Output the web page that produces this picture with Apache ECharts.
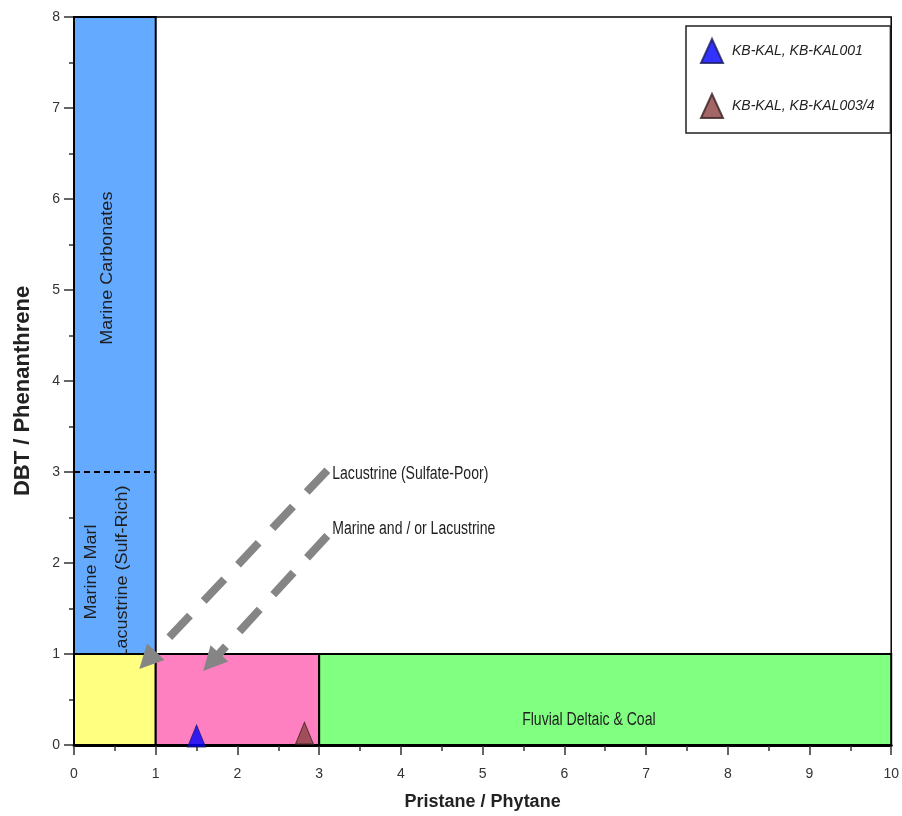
<!DOCTYPE html>
<html><head><meta charset="utf-8">
<script src="https://cdn.jsdelivr.net/npm/echarts@6/dist/echarts.min.js"></script>
<style>html,body{margin:0;padding:0;background:#fff}#c{width:902px;height:816px}</style>
</head><body><div id="c"></div>
<script>
// ---- data ----
const seriesNames = ['KB-KAL, KB-KAL001', 'KB-KAL, KB-KAL003/4'];
const pristanePhytane = [1.5, 2.82];
const dbtPhenanthrene = [0.1, 0.13];

// environment fields (x0, x1, y0, y1)
const regionNames = ['Marine Carbonates', 'Lacustrine (Sulf-Rich) low', 'Marine and / or Lacustrine', 'Fluvial Deltaic & Coal'];
const regionX0 = [0, 0, 1, 3];
const regionX1 = [1, 1, 3, 10];
const regionY0 = [1, 0, 0, 0];
const regionY1 = [8, 1, 1, 1];
const boundaryY = 3;           // dashed divide in the carbonate column
const boundaryX = [0, 1];

// annotation labels (data coordinates)
const labelTexts = ['Marine Carbonates', 'Marine Marl', 'Lacustrine (Sulf-Rich)', 'Lacustrine (Sulfate-Poor)', 'Marine and / or Lacustrine', 'Fluvial Deltaic & Coal'];
const labelX = [0.41, 0.22, 0.6, 3.16, 3.16, 6.3];
const labelY = [5.24, 1.9, 1.9, 2.98, 2.37, 0.27];

// trend arrows
const arrowFrom = [[3.1, 3.02], [3.1, 2.3]];
const arrowTo = [[0.9, 0.93], [1.68, 0.91]];

const xTickValues = [0, 1, 2, 3, 4, 5, 6, 7, 8, 9, 10];
const yTickValues = [0, 1, 2, 3, 4, 5, 6, 7, 8];

// ---- styles ----
const FONT = 'Arial, "Liberation Sans", sans-serif';
const regionFill = ['#64aaff', '#ffff80', '#ff80c0', '#80ff80'];
const labelRotate = [Math.PI / 2, Math.PI / 2, Math.PI / 2, 0, 0, 0];
const labelAlign = ['center', 'center', 'center', 'left', 'left', 'center'];
const labelScaleX = [1, 1, 1, 0.78, 0.78, 0.78];
const labelScaleY = [0.88, 0.88, 0.88, 1, 1, 1];
const pointFill = ['#0000ff', '#8b4040'];
const pointStroke = ['#1a1a60', '#3a2020'];

function rectRender(params, api) {
  const i = api.value(4);
  const p0 = api.coord([api.value(0), api.value(3)]);
  const p1 = api.coord([api.value(1), api.value(2)]);
  return {
    type: 'rect',
    shape: { x: p0[0], y: p0[1], width: p1[0] - p0[0], height: p1[1] - p0[1] },
    style: { fill: regionFill[i], stroke: '#000', lineWidth: 2 }
  };
}
function labelRender(params, api) {
  const i = api.value(2);
  const p = api.coord([api.value(0), api.value(1)]);
  return {
    type: 'text', x: p[0], y: p[1], rotation: labelRotate[i],
    scaleX: labelScaleX[i], scaleY: labelScaleY[i],
    style: { text: labelTexts[i], align: labelAlign[i], verticalAlign: 'middle', font: '18px ' + FONT, fill: '#1e1e1e' }
  };
}
const regionData = regionNames.map((n, i) => [regionX0[i], regionX1[i], regionY0[i], regionY1[i], i]);
const labelData = labelTexts.map((t, i) => [labelX[i], labelY[i], i]);

const chart = echarts.init(document.getElementById('c'));
chart.setOption({
  backgroundColor: '#fff',
  animation: false,
  grid: { left: 74, right: 7, top: 17, bottom: 71, show: true, borderColor: '#000', borderWidth: 1.5 },
  legend: {
    left: 686, top: 26, orient: 'vertical',
    itemWidth: 22, itemHeight: 24, itemGap: 29,
    padding: [12, 16, 14, 14],
    borderColor: '#222', borderWidth: 1.5, backgroundColor: '#fff',
    textStyle: { fontStyle: 'italic', fontSize: 14, color: '#222', fontFamily: FONT, padding: [0, 0, 0, 4] },
    data: seriesNames
  },
  xAxis: {
    type: 'value', min: 0, max: 10, interval: 1,
    name: 'Pristane / Phytane', nameLocation: 'middle', nameGap: 48,
    nameTextStyle: { fontSize: 18, fontWeight: 'bold', color: '#222', fontFamily: FONT },
    axisLine: { show: true, lineStyle: { color: '#000', width: 3 } },
    axisTick: { show: true, length: 10, lineStyle: { color: '#333', width: 1.5 } },
    minorTick: { show: true, splitNumber: 2, length: 6, lineStyle: { color: '#333', width: 1.5 } },
    axisLabel: { margin: 22, fontSize: 14, color: '#333', fontFamily: FONT, formatter: v => xTickValues.includes(v) ? String(v) : '' },
    splitLine: { show: false }
  },
  yAxis: {
    type: 'value', min: 0, max: 8, interval: 1,
    name: 'DBT / Phenanthrene', nameLocation: 'middle', nameGap: 40, nameRotate: 90,
    nameTextStyle: { fontSize: 22, fontWeight: 'bold', color: '#222', fontFamily: FONT, padding: [0, 20, 0, 0] },
    axisLine: { show: true, lineStyle: { color: '#000', width: 2 } },
    axisTick: { show: true, length: 10, lineStyle: { color: '#333', width: 1.5 } },
    minorTick: { show: true, splitNumber: 2, length: 5, lineStyle: { color: '#333', width: 1.5 } },
    axisLabel: { margin: 14, fontSize: 14, color: '#333', fontFamily: FONT, formatter: v => yTickValues.includes(v) ? String(v) : '' },
    splitLine: { show: false }
  },
  series: [
    {
      type: 'custom', name: 'upperRegions', z: 1, silent: true,
      renderItem: rectRender,
      data: regionData.filter(d => regionY0[d[4]] >= 1),
      encode: { x: [0, 1], y: [2, 3] }
    },
    {
      type: 'custom', name: 'boundary', z: 2, silent: true,
      renderItem: function (params, api) {
        const a = api.coord([api.value(0), api.value(2)]);
        const b = api.coord([api.value(1), api.value(2)]);
        return { type: 'line', shape: { x1: a[0], y1: a[1], x2: b[0], y2: b[1] }, style: { stroke: '#000', lineWidth: 2, lineDash: [6, 4] } };
      },
      data: [[boundaryX[0], boundaryX[1], boundaryY]],
      encode: { x: [0, 1], y: 2 }
    },
    {
      type: 'custom', name: 'upperLabels', z: 3, silent: true,
      renderItem: labelRender,
      data: labelData.filter(d => d[1] >= 1),
      encode: { x: 0, y: 1 }
    },
    {
      type: 'custom', name: 'lowerRegions', z: 4, silent: true,
      renderItem: rectRender,
      data: regionData.filter(d => regionY0[d[4]] < 1),
      encode: { x: [0, 1], y: [2, 3] }
    },
    {
      type: 'custom', name: 'lowerLabels', z: 5, silent: true,
      renderItem: labelRender,
      data: labelData.filter(d => d[1] < 1),
      encode: { x: 0, y: 1 }
    },
    {
      type: 'lines', name: 'arrows', coordinateSystem: 'cartesian2d', z: 6, silent: true,
      symbol: ['none', 'triangle'], symbolSize: [22, 24],
      lineStyle: { color: '#858585', width: 8, type: [30, 20], opacity: 1 },
      data: arrowFrom.map((f, i) => ({ coords: [f, arrowTo[i]] }))
    },
    {
      type: 'scatter', name: seriesNames[0], z: 7,
      symbol: 'triangle', symbolSize: [18, 22],
      itemStyle: { color: pointFill[0], borderColor: pointStroke[0], borderWidth: 1 },
      data: [[pristanePhytane[0], dbtPhenanthrene[0]]]
    },
    {
      type: 'scatter', name: seriesNames[1], z: 7,
      symbol: 'triangle', symbolSize: [18, 22],
      itemStyle: { color: pointFill[1], borderColor: pointStroke[1], borderWidth: 1 },
      data: [[pristanePhytane[1], dbtPhenanthrene[1]]]
    }
  ]
});
</script></body></html>
